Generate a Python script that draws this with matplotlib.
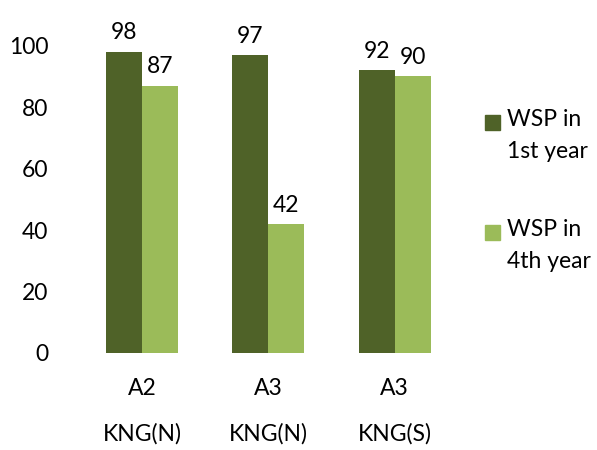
import matplotlib.pyplot as plt
from matplotlib.patches import Rectangle
import numpy as np

plt.rcParams['font.family'] = ['Lato', 'DejaVu Sans']

# chart data
sites = ['A2', 'A3', 'A3']
regions = ['KNG(N)', 'KNG(N)', 'KNG(S)']
series_names = ['WSP in\n1st year', 'WSP in\n4th year']
first_year = [98, 97, 92]
fourth_year = [87, 42, 90]
colors = ['#4F6228', '#9BBB59']

fig = plt.figure(figsize=(5.97, 4.5), dpi=100)
ax = fig.add_axes([0.132, 0.2156, 0.635, 0.683])

x = np.arange(len(sites))
width = 0.285
fs = 16.5

b1 = ax.bar(x - width / 2, first_year, width, color=colors[0])
b2 = ax.bar(x + width / 2, fourth_year, width, color=colors[1])

for bars in (b1, b2):
    for rect in bars:
        h = rect.get_height()
        ax.annotate(f'{h:.0f}', (rect.get_x() + rect.get_width() / 2, h),
                    xytext=(0, 6), textcoords='offset points',
                    ha='center', va='bottom', fontsize=fs)

ax.set_xlim(-0.5, len(sites) - 0.5)
ax.set_ylim(0, 100)
ax.set_yticks(np.arange(0, 101, 20))
ax.set_xticks(x)
ax.set_xticklabels([f'{s}\n\n{r}' for s, r in zip(sites, regions)],
                   fontsize=fs, linespacing=1.1)
ax.tick_params(axis='both', length=0, labelsize=fs)
ax.tick_params(axis='x', pad=18)
ax.tick_params(axis='y', pad=22)
for s in ax.spines.values():
    s.set_visible(False)

# legend drawn by hand so the swatch sits on the first line of each label
W, H = fig.get_size_inches() * fig.dpi
for i, (name, c) in enumerate(zip(series_names, colors)):
    top = 115 + i * 110
    fig.patches.append(Rectangle((485 / W, 1 - (top + 15) / H), 15 / W, 15 / H,
                                 color=c, transform=fig.transFigure))
    fig.text(507 / W, 1 - (top - 6) / H, name, fontsize=fs, va='top', ha='left',
             linespacing=1.65)

fig.savefig('out.png', dpi=100)
